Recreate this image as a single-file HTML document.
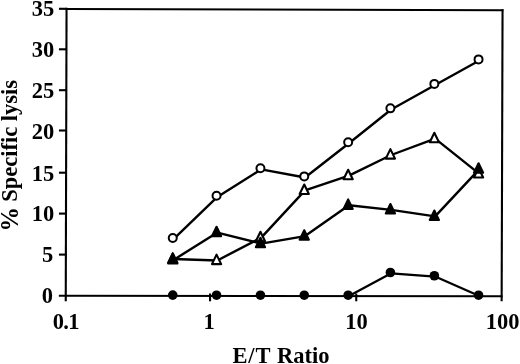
<!DOCTYPE html>
<html><head><meta charset="utf-8"><style>
html,body{margin:0;padding:0;background:#fff;}
body{width:520px;height:364px;overflow:hidden;}
svg{display:block;will-change:transform;}
text{font-family:"Liberation Serif",serif;font-weight:bold;font-size:22.5px;fill:#000;}
</style></head><body>
<svg width="520" height="364" viewBox="0 0 520 364">
<rect width="520" height="364" fill="#fff"/>
<g transform="translate(0.45,0.5)">
<g stroke="#000" stroke-width="2.1" fill="none" stroke-linecap="butt">
<line x1="66.1" y1="7.3" x2="65.3" y2="300.8"/>
<line x1="65.2" y1="8.45" x2="503.0" y2="9.8"/>
<line x1="502.1" y1="8.7" x2="501.2" y2="300.8"/>
<line x1="58.4" y1="295.3" x2="502.2" y2="295.7"/>
<line x1="58.5" y1="8.3" x2="66" y2="8.3"/>
<line x1="58.5" y1="48.8" x2="66" y2="48.8"/>
<line x1="58.5" y1="89.7" x2="66" y2="89.7"/>
<line x1="58.5" y1="130.0" x2="66" y2="130.0"/>
<line x1="58.5" y1="172.2" x2="66" y2="172.2"/>
<line x1="58.5" y1="213.1" x2="66" y2="213.1"/>
<line x1="58.5" y1="254.1" x2="66" y2="254.1"/>
<line x1="209.6" y1="293.0" x2="209.6" y2="300.8"/>
<line x1="355.8" y1="293.0" x2="355.8" y2="300.8"/>
</g>
<g stroke="#000" stroke-width="2.4" fill="none" stroke-linejoin="round">
<polyline points="173.10,238.60 216.90,196.40 260.80,168.90 304.60,177.00 348.50,142.80 390.75,108.95 434.70,84.50 478.90,60.00"/>
<polyline points="173.10,258.50 216.90,259.95 260.80,237.10 304.60,189.90 348.50,175.10 390.75,154.50 434.70,138.10 478.90,173.40"/>
<polyline points="173.10,259.40 216.90,232.10 260.80,243.10 304.60,235.60 348.50,204.70 390.75,209.35 434.70,215.85 478.90,168.60"/>
<polyline points="348.50,295.50 390.75,272.80 434.70,276.05 478.90,295.50" stroke-width="2.3"/>
</g>
<circle cx="172.3" cy="237.5" r="4.0" fill="#fff" stroke="#000" stroke-width="2.0"/>
<circle cx="216.1" cy="195.3" r="4.0" fill="#fff" stroke="#000" stroke-width="2.0"/>
<circle cx="260.0" cy="167.8" r="4.0" fill="#fff" stroke="#000" stroke-width="2.0"/>
<circle cx="303.8" cy="175.9" r="4.0" fill="#fff" stroke="#000" stroke-width="2.0"/>
<circle cx="347.7" cy="141.7" r="4.0" fill="#fff" stroke="#000" stroke-width="2.0"/>
<circle cx="389.95" cy="107.85" r="4.0" fill="#fff" stroke="#000" stroke-width="2.0"/>
<circle cx="433.9" cy="83.4" r="4.0" fill="#fff" stroke="#000" stroke-width="2.0"/>
<circle cx="478.1" cy="58.9" r="4.0" fill="#fff" stroke="#000" stroke-width="2.0"/>
<polygon points="172.30,252.65 176.90,262.15 167.70,262.15" fill="#fff" stroke="#000" stroke-width="2.1" stroke-linejoin="round"/>
<polygon points="216.10,254.10 220.70,263.60 211.50,263.60" fill="#fff" stroke="#000" stroke-width="2.1" stroke-linejoin="round"/>
<polygon points="260.00,231.25 264.60,240.75 255.40,240.75" fill="#fff" stroke="#000" stroke-width="2.1" stroke-linejoin="round"/>
<polygon points="303.80,184.05 308.40,193.55 299.20,193.55" fill="#fff" stroke="#000" stroke-width="2.1" stroke-linejoin="round"/>
<polygon points="347.70,169.25 352.30,178.75 343.10,178.75" fill="#fff" stroke="#000" stroke-width="2.1" stroke-linejoin="round"/>
<polygon points="389.95,148.65 394.55,158.15 385.35,158.15" fill="#fff" stroke="#000" stroke-width="2.1" stroke-linejoin="round"/>
<polygon points="433.90,132.25 438.50,141.75 429.30,141.75" fill="#fff" stroke="#000" stroke-width="2.1" stroke-linejoin="round"/>
<polygon points="478.10,167.55 482.70,177.05 473.50,177.05" fill="#fff" stroke="#000" stroke-width="2.1" stroke-linejoin="round"/>
<polygon points="172.30,253.55 176.90,263.05 167.70,263.05" fill="#000" stroke="#000" stroke-width="2.1" stroke-linejoin="round"/>
<polygon points="216.10,226.25 220.70,235.75 211.50,235.75" fill="#000" stroke="#000" stroke-width="2.1" stroke-linejoin="round"/>
<polygon points="260.00,237.25 264.60,246.75 255.40,246.75" fill="#000" stroke="#000" stroke-width="2.1" stroke-linejoin="round"/>
<polygon points="303.80,229.75 308.40,239.25 299.20,239.25" fill="#000" stroke="#000" stroke-width="2.1" stroke-linejoin="round"/>
<polygon points="347.70,198.85 352.30,208.35 343.10,208.35" fill="#000" stroke="#000" stroke-width="2.1" stroke-linejoin="round"/>
<polygon points="389.95,203.50 394.55,213.00 385.35,213.00" fill="#000" stroke="#000" stroke-width="2.1" stroke-linejoin="round"/>
<polygon points="433.90,210.00 438.50,219.50 429.30,219.50" fill="#000" stroke="#000" stroke-width="2.1" stroke-linejoin="round"/>
<polygon points="478.10,162.75 482.70,172.25 473.50,172.25" fill="#000" stroke="#000" stroke-width="2.1" stroke-linejoin="round"/>
<circle cx="172.3" cy="294.6" r="4.8" fill="#000"/>
<circle cx="216.1" cy="294.7" r="4.8" fill="#000"/>
<circle cx="260.0" cy="294.7" r="4.8" fill="#000"/>
<circle cx="303.8" cy="294.7" r="4.8" fill="#000"/>
<circle cx="347.7" cy="294.7" r="4.8" fill="#000"/>
<circle cx="389.95" cy="272.0" r="4.8" fill="#000"/>
<circle cx="433.9" cy="275.25" r="4.8" fill="#000"/>
<circle cx="478.1" cy="294.7" r="4.8" fill="#000"/>
<text x="53.86" y="15.40" text-anchor="end">35</text>
<text x="53.80" y="56.94" text-anchor="end">30</text>
<text x="53.92" y="97.26" text-anchor="end">25</text>
<text x="53.90" y="138.24" text-anchor="end">20</text>
<text x="53.76" y="180.80" text-anchor="end">15</text>
<text x="53.78" y="220.89" text-anchor="end">10</text>
<text x="52.74" y="261.86" text-anchor="end">5</text>
<text x="52.56" y="302.47" text-anchor="end">0</text>
<text x="65.40" y="328.51" text-anchor="middle" style="letter-spacing:-0.6px">0.1</text>
<text x="208.80" y="328.95" text-anchor="middle">1</text>
<text x="355.96" y="328.94" text-anchor="middle">10</text>
<text x="502.16" y="328.50" text-anchor="middle">100</text>
<text x="251.47" y="362.40" text-anchor="middle" style="letter-spacing:0.9px">E/T</text>
<text x="302.82" y="362.82" text-anchor="middle">Ratio</text>
<text transform="translate(17.02,140.42) rotate(-90)" text-anchor="middle">Specific lysis</text>
<text transform="translate(17.22,218.84) rotate(-90)" text-anchor="middle" style="font-size:24.5px">%</text>
</g>
</svg>
</body></html>
